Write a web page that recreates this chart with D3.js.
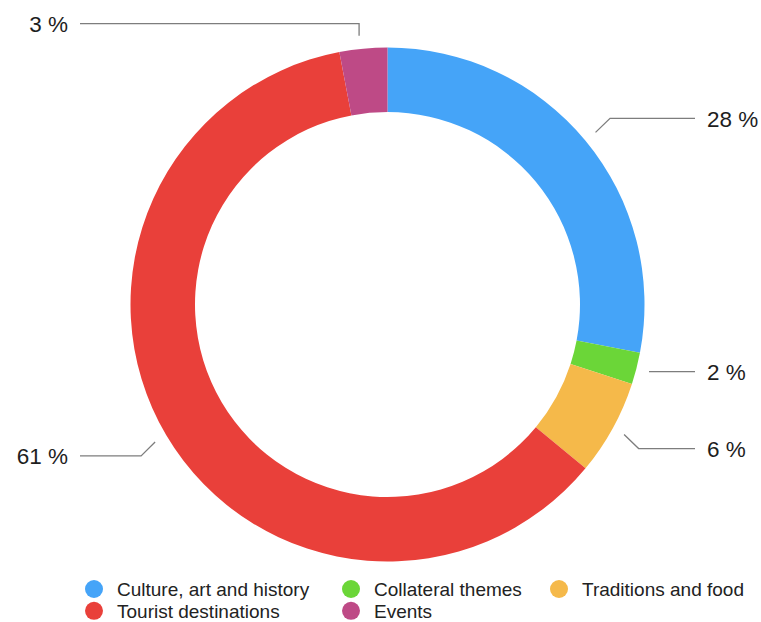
<!DOCTYPE html>
<html>
<head>
<meta charset="utf-8">
<script src="https://cdn.jsdelivr.net/npm/d3@7"></script>
<style>
  html, body { margin: 0; padding: 0; background: #ffffff; }
  svg { display: block; font-family: "Liberation Sans", Arial, Helvetica, sans-serif; }
</style>
</head>
<body>
<svg id="chart" width="761" height="622"></svg>
<script>
// Share of topics (percent), clockwise from 12 o'clock
const categories = [
  "Culture, art and history",
  "Collateral themes",
  "Traditions and food",
  "Tourist destinations",
  "Events"
];
const values = [28, 2, 6, 61, 3];
const colors = ["#45a4f8", "#6bd638", "#f5b94a", "#e9403a", "#be4a86"];

const svg = d3.select("#chart");
const cx = 387.5, cy = 304.5;
const outerR = 257, innerR = 192.5;
const leaderR = 270;

const color = d3.scaleOrdinal().domain(categories).range(colors);

const pie = d3.pie().sort(null).value(d => d.value);
const data = pie(categories.map((c, i) => ({ name: c, value: values[i] })));

const arc = d3.arc().innerRadius(innerR).outerRadius(outerR);
const leaderArc = d3.arc().innerRadius(leaderR).outerRadius(leaderR);

const g = svg.append("g").attr("transform", `translate(${cx},${cy})`);

g.selectAll("path.slice")
  .data(data)
  .join("path")
  .attr("class", "slice")
  .attr("d", arc)
  .attr("fill", d => color(d.data.name));

// Leader lines and percentage labels
const leftX = 80 - cx, rightX = 695 - cx;
const labelFont = 22.5;
const lines = svg.append("g").attr("transform", `translate(${cx},${cy})`);

data.forEach(d => {
  const mid = (d.startAngle + d.endAngle) / 2;
  let [sx, sy] = leaderArc.centroid(d);
  const s = Math.sin(mid), c = -Math.cos(mid); // c < 0 means upper half
  const pts = [];
  let endX;
  const fromVertical = Math.abs(Math.asin(Math.max(-1, Math.min(1, s)))) * 180 / Math.PI;
  if (Math.abs(s) < Math.sin(20 * Math.PI / 180)) {
    // near the top/bottom: short vertical stub, then out to the side
    sx -= 3;
    pts.push([sx, sy]);
    const ey = sy + (c < 0 ? -12 : 12);
    pts.push([sx, ey]);
    endX = s < 0 ? leftX : rightX;
    pts.push([endX, ey]);
  } else if (fromVertical > 70) {
    // near horizontal: straight line
    pts.push([sx, sy]);
    endX = s > 0 ? rightX : leftX;
    pts.push([endX, sy]);
  } else {
    pts.push([sx, sy]);
    const ex = sx + (s > 0 ? 14.5 : -14);
    const ey = sy + (c < 0 ? -14 : 14);
    pts.push([ex, ey]);
    endX = s > 0 ? rightX : leftX;
    pts.push([endX, ey]);
  }
  const anchor = endX > 0 ? "start" : "end";
  const last = pts[pts.length - 1];

  lines.append("path")
    .attr("d", d3.line()(pts))
    .attr("fill", "none")
    .attr("stroke", "#7d7d7d")
    .attr("stroke-width", 1.3);

  lines.append("text")
    .attr("x", last[0] + (anchor === "start" ? 12 : -12))
    .attr("y", last[1] + labelFont * 0.36)
    .attr("text-anchor", anchor)
    .attr("font-size", labelFont)
    .attr("fill", "#1e1e1e")
    .text(`${d.data.value} %`);
});

// Legend: three columns, filled row by row
const legendCols = [94, 351, 559];
const legendRows = [589, 610.8];
const legend = svg.append("g");
categories.forEach((name, i) => {
  const col = i % 3, row = Math.floor(i / 3);
  const x = legendCols[col], y = legendRows[row];
  const item = legend.append("g");
  item.append("circle")
    .attr("cx", x).attr("cy", y).attr("r", 9)
    .attr("fill", color(name));
  item.append("text")
    .attr("x", x + 23)
    .attr("y", y + 7)
    .attr("font-size", 19)
    .attr("fill", "#222")
    .text(name);
});
</script>
</body>
</html>
